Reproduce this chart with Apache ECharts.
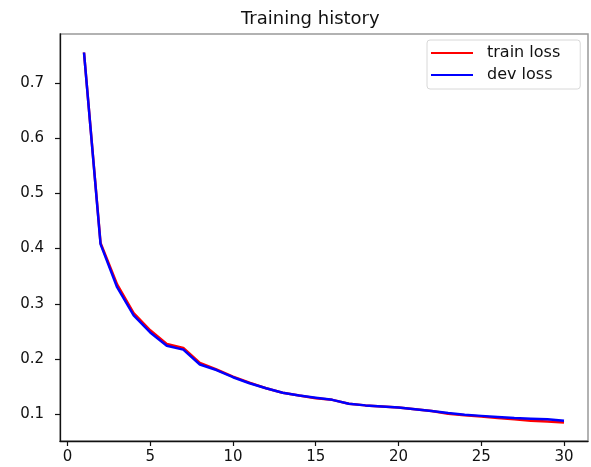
<!DOCTYPE html>
<html>
<head>
<meta charset="utf-8">
<script src="https://cdn.jsdelivr.net/npm/echarts@6/dist/echarts.min.js"></script>
<style>
html,body{margin:0;padding:0;background:#fff;}
#c{width:591px;height:467px;}
</style>
</head>
<body>
<div id="c"></div>
<script>
const epochs = [1,2,3,4,5,6,7,8,9,10,11,12,13,14,15,16,17,18,19,20,21,22,23,24,25,26,27,28,29,30];
const trainLoss = [0.755,0.410,0.335,0.283,0.252,0.227,0.220,0.193,0.181,0.168,0.157,0.147,0.139,0.134,0.129,0.126,0.119,0.116,0.114,0.112,0.109,0.106,0.101,0.098,0.096,0.093,0.091,0.088,0.087,0.085];
const devLoss = [0.755,0.408,0.330,0.279,0.248,0.224,0.217,0.190,0.180,0.167,0.156,0.147,0.139,0.134,0.130,0.126,0.119,0.116,0.114,0.112,0.109,0.106,0.102,0.099,0.097,0.095,0.093,0.092,0.091,0.088];
const xTicks = [0,5,10,15,20,25,30];
const yTicks = [0.1,0.2,0.3,0.4,0.5,0.6,0.7];
const titleText = 'Training history';
const seriesNames = ['train loss','dev loss'];

const font = 'DejaVu Sans';
const chart = echarts.init(document.getElementById('c'), null, {renderer:'canvas'});
chart.setOption({
  animation:false,
  backgroundColor:'#fff',
  title:{text:titleText,left:236,top:5,textStyle:{fontFamily:font,fontSize:18,fontWeight:'normal',color:'#111'}},
  legend:{
    data:seriesNames, orient:'vertical', left:427, top:40,
    icon:'rect', itemWidth:42, itemHeight:2, itemGap:6,
    padding:[5,20,6,4],
    borderColor:'#d8d8d8', borderWidth:1, borderRadius:3,
    textStyle:{fontFamily:font,fontSize:16,color:'#111',lineHeight:16,padding:[0,0,0,9]}
  },
  grid:{left:60,top:34,width:528,height:407,show:true,borderColor:'#999',borderWidth:1.5,containLabel:false},
  xAxis:{
    type:'value', min:-0.45, max:31.45,
    splitLine:{show:false},
    axisLine:{show:true,onZero:false,lineStyle:{color:'#111',width:1.3}},
    axisTick:{show:true,length:5,customValues:xTicks,lineStyle:{color:'#111',width:1.2}},
    axisLabel:{customValues:xTicks,margin:9,fontFamily:font,fontSize:15,color:'#111'}
  },
  yAxis:{
    type:'value', min:0.0515, max:0.7885,
    splitLine:{show:false},
    axisLine:{show:true,onZero:false,lineStyle:{color:'#111',width:1.3}},
    axisTick:{show:true,length:5,customValues:yTicks,lineStyle:{color:'#111',width:1.2}},
    axisLabel:{customValues:yTicks,margin:16,fontFamily:font,fontSize:15,color:'#111',formatter:v=>v.toFixed(1)}
  },
  series:[
    {name:seriesNames[0],type:'line',symbol:'none',data:epochs.map((e,i)=>[e,trainLoss[i]]),lineStyle:{color:'#ff0000',width:2.5},itemStyle:{color:'#ff0000'}},
    {name:seriesNames[1],type:'line',symbol:'none',data:epochs.map((e,i)=>[e,devLoss[i]]),lineStyle:{color:'#0000ff',width:2.5},itemStyle:{color:'#0000ff'}}
  ]
});
</script>
</body>
</html>
